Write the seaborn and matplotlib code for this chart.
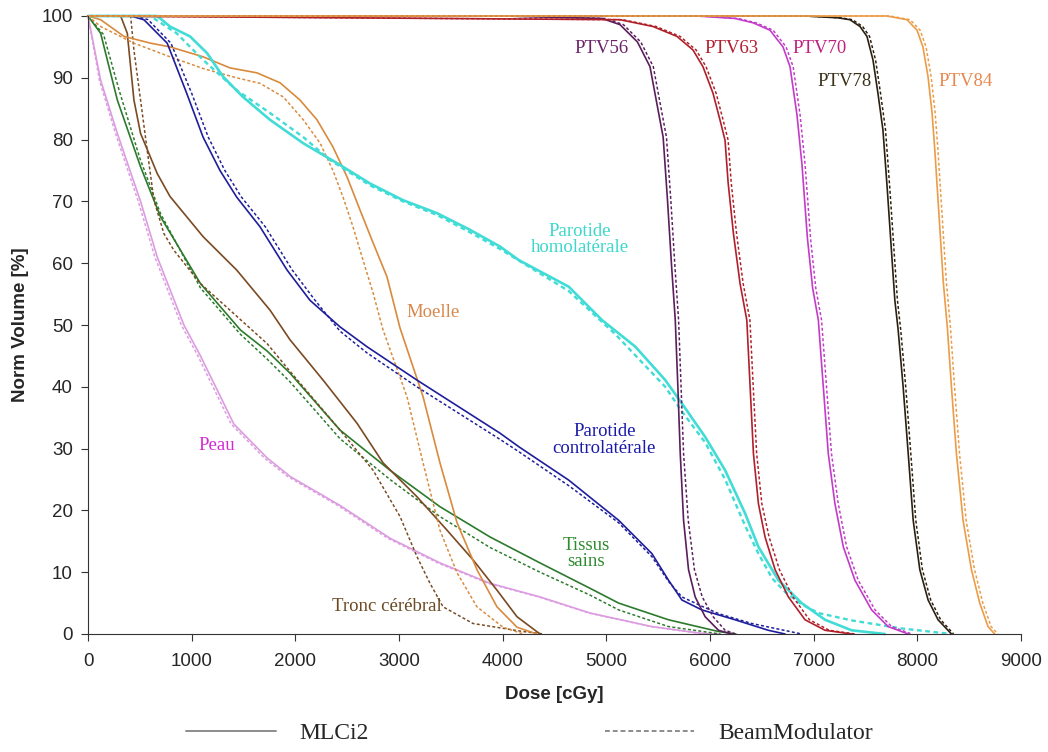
import matplotlib
matplotlib.use("Agg")
import matplotlib.pyplot as plt
from matplotlib.lines import Line2D
import seaborn as sns
import pandas as pd

peau_dose = [0, 122, 283, 507, 668, 925, 1085, 1246, 1406, 1727, 1949, 2431, 2913, 3395, 3878, 4360, 4842, 5440, 5921, 6100]
peau_vol = [100, 89.6, 81, 70, 61, 50, 45, 39.5, 34, 28.5, 25.5, 20.8, 15.5, 11.5, 8.2, 6, 3.4, 1.2, 0.1, 0]
peau_dose_bm = [0, 110, 265, 485, 645, 900, 1060, 1220, 1380, 1700, 1925, 2410, 2890, 3375, 3860, 4345, 4830, 5430, 5900, 6080]
peau_vol_bm = [100, 89.6, 81, 70, 61, 50, 45, 39.5, 34, 28.5, 25.5, 20.8, 15.5, 11.5, 8.2, 6, 3.4, 1.2, 0.1, 0]

tissus_dose = [0, 122, 283, 507, 700, 1085, 1470, 1727, 1949, 2431, 2913, 3395, 3878, 4360, 4842, 5119, 5600, 6082, 6250]
tissus_vol = [100, 97.2, 86.4, 75.6, 67.5, 56.7, 49.2, 45.8, 42.2, 33, 26.5, 20.6, 15.7, 11.5, 7.4, 5, 2.3, 0.4, 0]
tissus_dose_bm = [0, 150, 300, 500, 700, 1085, 1470, 1727, 1949, 2431, 2913, 3395, 3878, 4360, 4842, 5119, 5600, 6100]
tissus_vol_bm = [100, 97, 88, 77, 68, 56, 48.5, 44.5, 40.8, 31.6, 25, 19, 14, 10, 6.3, 3.9, 1.2, 0]

tronc_dose = [0, 315, 379, 443, 507, 668, 791, 1110, 1434, 1756, 1949, 2267, 2595, 2846, 3174, 3463, 3714, 3945, 4138, 4360]
tronc_vol = [100, 100, 97.2, 86.4, 81, 74.5, 70.8, 64.3, 58.9, 52.4, 47.6, 41.1, 34.1, 27.7, 22.2, 16.8, 12, 7.1, 2.8, 0]
tronc_dose_bm = [0, 411, 443, 507, 571, 636, 732, 828, 1085, 1727, 1949, 2431, 2750, 3010, 3174, 3299, 3425, 3714, 4196, 4400]
tronc_vol_bm = [100, 100, 94.5, 86.4, 78.3, 70.2, 64.8, 62.1, 56.7, 47, 42.5, 33, 26.5, 19, 12.5, 8.2, 4.4, 1.7, 0.4, 0]

moelle_dose = [0, 122, 347, 604, 791, 1110, 1370, 1630, 1852, 2045, 2209, 2363, 2498, 2624, 2750, 2884, 3010, 3232, 3395, 3560, 3752, 3945, 4138, 4331]
moelle_vol = [100, 99.4, 96.7, 95.6, 95, 93.4, 91.6, 90.8, 89.2, 86.4, 83.2, 78.8, 74, 68.6, 63.3, 57.8, 49.5, 38.4, 27.7, 18, 10.4, 4.4, 1.1, 0]
moelle_dose_bm = [0, 122, 443, 791, 1110, 1434, 1659, 1884, 2077, 2240, 2363, 2460, 2556, 2653, 2750, 2846, 3077, 3232, 3395, 3560, 3752, 4003, 4200]
moelle_vol_bm = [100, 98.3, 95.6, 93.4, 91.5, 90, 89.1, 86.9, 83.2, 79.4, 75, 70.7, 65.9, 60.5, 55.2, 49.2, 38.4, 27.7, 16.8, 9.9, 4.4, 1.1, 0]

contro_dose = [0, 411, 539, 764, 952, 1110, 1273, 1434, 1659, 1920, 2141, 2431, 2690, 3172, 3974, 4156, 4637, 5119, 5440, 5600, 5729, 5921, 6242, 6563, 6724]
contro_vol = [100, 100, 99.4, 95.6, 87.5, 80.4, 75, 70.7, 65.9, 58.9, 54, 49.7, 46.5, 41.1, 32.5, 30.3, 24.9, 18.4, 13, 8.7, 5.5, 3.9, 2.3, 0.6, 0]
contro_dose_bm = [0, 460, 580, 800, 1000, 1160, 1320, 1480, 1710, 1970, 2190, 2431, 2690, 3172, 3974, 4156, 4637, 5119, 5440, 5600, 5729, 5921, 6082, 6403, 6884]
contro_vol_bm = [100, 100, 99.4, 95.6, 87.5, 80.4, 75, 70.7, 65.9, 58.9, 54, 49, 45.5, 40, 31.5, 29.5, 24, 18, 12.5, 8.5, 6, 4.5, 3.3, 1.7, 0]

homo_dose = [0, 668, 791, 984, 1148, 1302, 1495, 1756, 2077, 2402, 2720, 3039, 3366, 3685, 3974, 4156, 4637, 4958, 5279, 5568, 5729, 5953, 6146, 6339, 6467, 6660, 6884, 7110, 7366, 7687]
homo_vol = [100, 100, 98.3, 96.7, 94, 90.2, 86.9, 83.2, 79.4, 76.2, 72.9, 70.2, 68.1, 65.4, 62.7, 60.5, 56.2, 50.8, 46.5, 41.1, 37.3, 31.9, 26.5, 19.5, 14.1, 8.7, 5, 2.3, 0.6, 0]
homo_dose_bm = [0, 600, 855, 1110, 1434, 1756, 2077, 2334, 2720, 3039, 3366, 3685, 3974, 4637, 5087, 5568, 5729, 5953, 6146, 6339, 6467, 6600, 6724, 6884, 7045, 7366, 7847, 8329]
homo_vol_bm = [100, 100, 97.2, 92.9, 88, 84.3, 80.4, 76.7, 72.6, 70, 67.8, 65, 62.3, 55.5, 48.5, 40, 36, 31, 25, 17.5, 13, 9, 6.8, 4.8, 3.4, 2.2, 0.9, 0]

ptv56_dose = [0, 4000, 4958, 5132, 5300, 5421, 5480, 5548, 5590, 5630, 5665, 5690, 5713, 5745, 5793, 5857, 5953, 6082, 6210]
ptv56_vol = [100, 100, 99.6, 98.6, 95.8, 91.8, 86.5, 80.4, 70.2, 59.4, 50.8, 40, 29.2, 18.4, 10.4, 6, 2.8, 0.6, 0]
ptv56_dose_bm = [0, 4000, 4990, 5165, 5332, 5453, 5512, 5580, 5622, 5662, 5697, 5721, 5745, 5790, 5850, 5925, 6030, 6146, 6250]
ptv56_vol_bm = [100, 100, 99.6, 98.6, 95.8, 91.8, 86.5, 80.4, 70.2, 59.4, 50.8, 40, 29.2, 18.4, 10.4, 6, 2.8, 0.6, 0]

ptv63_dose = [0, 5132, 5450, 5681, 5836, 5932, 6029, 6096, 6145, 6175, 6226, 6290, 6355, 6387, 6419, 6467, 6531, 6628, 6756, 6917, 7110, 7366]
ptv63_vol = [100, 99.4, 98.3, 96.7, 94.5, 91.8, 87.5, 83.2, 79.9, 73, 64.8, 56.7, 50.8, 40, 29.2, 21.1, 15.7, 10.4, 6, 2.3, 0.6, 0]
ptv63_dose_bm = [0, 5160, 5480, 5711, 5866, 5962, 6059, 6126, 6175, 6205, 6256, 6320, 6385, 6417, 6450, 6500, 6570, 6670, 6800, 6960, 7150, 7400]
ptv63_vol_bm = [100, 99.4, 98.3, 96.7, 94.5, 91.8, 87.5, 83.2, 79.9, 73, 64.8, 56.7, 50.8, 40, 29.2, 21.1, 15.7, 10.4, 6, 2.3, 0.6, 0]

ptv70_dose = [0, 5875, 6242, 6415, 6579, 6704, 6772, 6839, 6887, 6940, 6990, 7045, 7093, 7141, 7205, 7286, 7398, 7559, 7719, 7912]
ptv70_vol = [100, 100, 99.6, 98.9, 97.7, 95, 91.8, 84, 76, 64, 56, 50.8, 40, 29.2, 21.1, 14.1, 8.7, 3.9, 1.2, 0]
ptv70_dose_bm = [0, 5905, 6272, 6445, 6609, 6734, 6802, 6869, 6917, 6970, 7020, 7076, 7124, 7172, 7237, 7318, 7430, 7592, 7752, 7945]
ptv70_vol_bm = [100, 100, 99.6, 98.9, 97.7, 95, 91.8, 84, 76, 64, 56, 50.8, 40, 29.2, 21.1, 14.1, 8.7, 3.9, 1.2, 0]

ptv78_dose = [0, 6916, 7238, 7350, 7447, 7514, 7572, 7620, 7668, 7710, 7750, 7783, 7815, 7863, 7912, 7960, 8024, 8104, 8200, 8329]
ptv78_vol = [100, 100, 99.7, 99.4, 98.3, 96.7, 92.9, 87.5, 81.6, 72, 62.1, 54, 49.2, 40, 29.2, 18.4, 10.4, 5.5, 2.3, 0]
ptv78_dose_bm = [0, 6940, 7263, 7375, 7472, 7539, 7597, 7645, 7693, 7735, 7775, 7808, 7840, 7888, 7937, 7985, 8049, 8129, 8225, 8350]
ptv78_vol_bm = [100, 100, 99.7, 99.4, 98.3, 96.7, 92.9, 87.5, 81.6, 72, 62.1, 54, 49.2, 40, 29.2, 18.4, 10.4, 5.5, 2.3, 0]

ptv84_dose = [0, 7707, 7900, 7997, 8054, 8103, 8141, 8170, 8210, 8250, 8290, 8329, 8377, 8441, 8522, 8602, 8682, 8746]
ptv84_vol = [100, 100, 99.4, 97.7, 95, 90.2, 84.5, 78, 67.5, 57, 49.5, 40, 29.2, 18.4, 10.4, 5, 1.2, 0]
ptv84_dose_bm = [0, 7737, 7930, 8027, 8084, 8133, 8171, 8200, 8240, 8280, 8320, 8359, 8407, 8471, 8552, 8632, 8712, 8776]
ptv84_vol_bm = [100, 100, 99.4, 97.7, 95, 90.2, 84.5, 78, 67.5, 57, 49.5, 40, 29.2, 18.4, 10.4, 5, 1.2, 0]

# structure: (solid dose, solid vol, dashed dose, dashed vol, line colour, label text, label x, label y, label colour)
curves = {
    "Peau": (peau_dose, peau_vol, peau_dose_bm, peau_vol_bm, "#dc9ce0", "Peau", 1245, 30.5, "#d42ad4"),
    "Tissus": (tissus_dose, tissus_vol, tissus_dose_bm, tissus_vol_bm, "#2c7a2c", "Tissus\nsains", 4805, 13, "#2e8b2e"),
    "Tronc": (tronc_dose, tronc_vol, tronc_dose_bm, tronc_vol_bm, "#7a4a22", "Tronc cérébral", 2885, 4.5, "#6b4a22"),
    "Moelle": (moelle_dose, moelle_vol, moelle_dose_bm, moelle_vol_bm, "#d98a3c", "Moelle", 3330, 52, "#d8884c"),
    "Contro": (contro_dose, contro_vol, contro_dose_bm, contro_vol_bm, "#1e1e9c", "Parotide\ncontrolatérale", 4980, 31.4, "#1a1aa8"),
    "Homo": (homo_dose, homo_vol, homo_dose_bm, homo_vol_bm, "#42dcd6", "Parotide\nhomolatérale", 4745, 63.8, "#3cd8cc"),
    "PTV56": (ptv56_dose, ptv56_vol, ptv56_dose_bm, ptv56_vol_bm, "#5a1e5c", "PTV56", 4950, 94.8, "#6a2468"),
    "PTV63": (ptv63_dose, ptv63_vol, ptv63_dose_bm, ptv63_vol_bm, "#b0202a", "PTV63", 6205, 94.8, "#b01e2e"),
    "PTV70": (ptv70_dose, ptv70_vol, ptv70_dose_bm, ptv70_vol_bm, "#c23cc8", "PTV70", 7060, 94.8, "#c0207e"),
    "PTV78": (ptv78_dose, ptv78_vol, ptv78_dose_bm, ptv78_vol_bm, "#2b2010", "PTV78", 7295, 89.4, "#3a3018"),
    "PTV84": (ptv84_dose, ptv84_vol, ptv84_dose_bm, ptv84_vol_bm, "#eb9c48", "PTV84", 8470, 89.4, "#e8884e"),
}

sns.set_style("ticks")
plt.rcParams["font.family"] = ["Liberation Sans", "DejaVu Sans"]

fig = plt.figure(figsize=(10.48, 7.52), dpi=100)
ax = fig.add_axes([88 / 1048, 118 / 752, 933 / 1048, 618 / 752])

for name, (d, v, d_bm, v_bm, col, txt, tx, ty, tcol) in curves.items():
    lw = 1.9 if name == "Homo" else 1.2
    df = pd.DataFrame({"Dose": d, "Volume": v})
    df_bm = pd.DataFrame({"Dose": d_bm, "Volume": v_bm})
    sns.lineplot(data=df_bm, x="Dose", y="Volume", ax=ax, color=col, linewidth=lw * 0.9,
                 linestyle=(0, (2, 1.5)), sort=False, estimator=None, clip_on=False)
    sns.lineplot(data=df, x="Dose", y="Volume", ax=ax, color=col, linewidth=lw,
                 sort=False, estimator=None, clip_on=False)
    ax.text(tx, ty, txt, color=tcol, ha="center", va="center", fontsize=13.5,
            family="Liberation Serif", linespacing=0.95)

ax.set_xlim(0, 9000)
ax.set_ylim(0, 100)
ax.set_xticks(range(0, 9001, 1000))
ax.set_yticks(range(0, 101, 10))
ax.tick_params(labelsize=13.5, length=5, color="#333333")
ax.tick_params(axis="x", pad=9)
ax.tick_params(axis="y", pad=6)
ax.set_xlabel("Dose [cGy]", fontsize=13.5, fontweight="bold", labelpad=11)
ax.set_ylabel("Norm Volume [%]", fontsize=13.5, fontweight="bold", labelpad=9)
sns.despine(ax=ax)
for s in ["left", "bottom"]:
    ax.spines[s].set_color("#333333")

handles = [Line2D([], [], color="#8c8c8c", lw=1.4),
           Line2D([], [], color="#8c8c8c", lw=1.4, linestyle=(0, (2.5, 1.5)))]
fig.legend(handles, ["MLCi2", "BeamModulator"], loc="center", bbox_to_anchor=(0.505, 0.025),
           ncol=2, frameon=False, handlelength=3.8, handletextpad=1.0, columnspacing=10,
           prop={"family": "Liberation Serif", "size": 17})

fig.savefig("out.png", dpi=100)
